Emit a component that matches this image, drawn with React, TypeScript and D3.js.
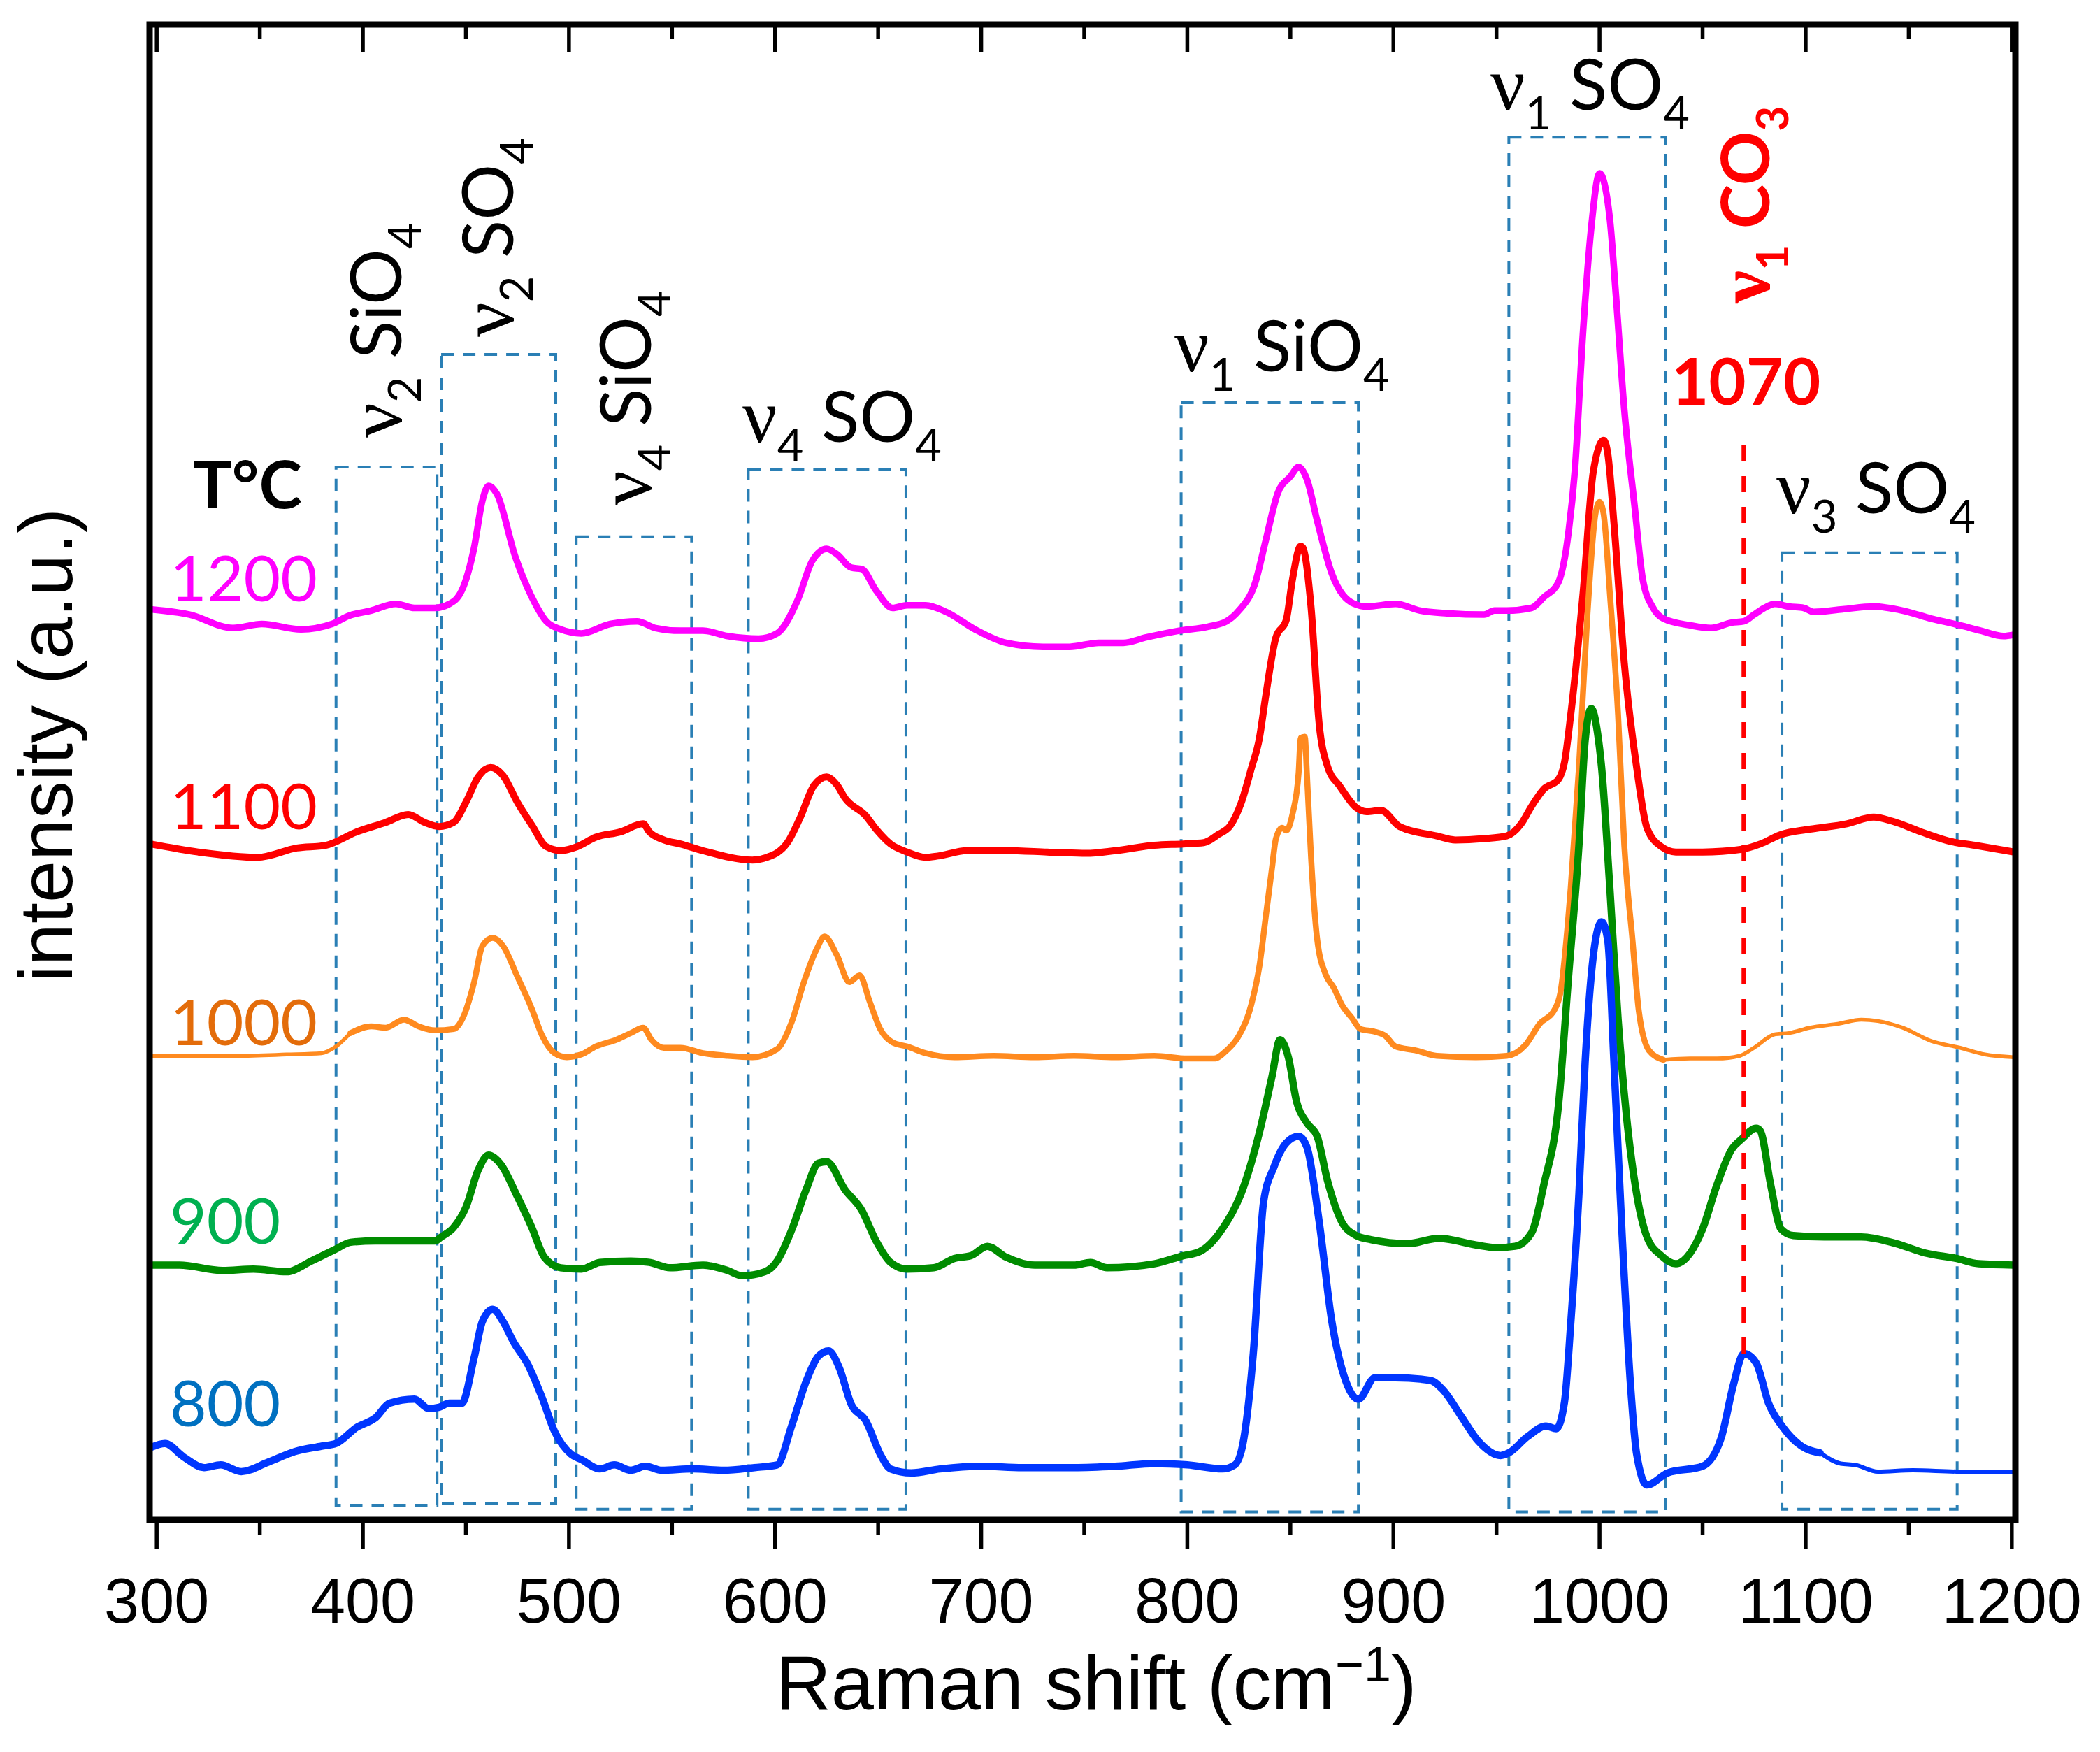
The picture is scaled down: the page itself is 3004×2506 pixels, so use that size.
import * as d3 from "d3";

type Pt = [number, number];

// Raman spectra, [shift (cm-1), intensity (a.u., stacked offset included)]
const spectrum1200: Pt[] = [
  [297, 679], [316, 675], [337, 665], [351, 668], [370, 664], [385, 668], [393, 674], [404, 678],
  [416, 683], [425, 680], [435, 680], [442, 683], [448, 693], [454, 725], [458, 760], [461, 771],
  [465, 765], [474, 718], [482, 688], [489, 670], [496, 664], [506, 661], [520, 668], [533, 670],
  [542, 665], [554, 663], [565, 663], [577, 659], [592, 657], [601, 661], [611, 686], [618, 715],
  [625, 724], [630, 720], [637, 710], [642, 709], [649, 693], [657, 680], [664, 682], [673, 682],
  [683, 677], [697, 664], [712, 654], [730, 651], [743, 651], [757, 654], [769, 654], [780, 658],
  [796, 663], [810, 666], [819, 670], [825, 678], [833, 699], [838, 730], [844, 766], [850, 778],
  [854, 785], [858, 776], [863, 745], [870, 706], [881, 683], [887, 681], [901, 683], [913, 678],
  [926, 676], [944, 675], [949, 678], [955, 678], [967, 680], [973, 688], [980, 699], [985, 737],
  [988, 782], [992, 886], [996, 964], [1000, 1004], [1005, 970], [1008, 912], [1012, 828], [1017, 756],
  [1021, 701], [1026, 680], [1031, 672], [1044, 667], [1054, 665], [1064, 669], [1070, 670], [1075, 675],
  [1080, 680], [1085, 683], [1092, 681], [1099, 680], [1104, 677], [1118, 679], [1133, 681], [1147, 678],
  [1161, 672], [1175, 667], [1185, 663], [1196, 659], [1201, 660],
];

const spectrum1100: Pt[] = [
  [297, 504], [320, 498], [349, 494], [368, 501], [382, 503], [397, 513], [411, 520], [422, 526],
  [430, 520], [437, 517], [444, 520], [450, 535], [456, 554], [462, 561], [468, 555], [475, 535],
  [482, 518], [489, 502], [496, 499], [504, 502], [513, 509], [525, 513], [536, 519], [539, 513],
  [546, 507], [554, 504], [565, 499], [589, 492], [596, 494], [606, 505], [612, 523], [619, 548],
  [625, 554], [630, 548], [634, 538], [644, 525], [649, 515], [656, 504], [664, 498], [673, 494],
  [679, 495], [693, 499], [712, 499], [732, 498], [751, 497], [765, 499], [784, 503], [798, 504],
  [808, 505], [815, 511], [821, 518], [826, 534], [831, 560], [835, 583], [838, 614], [843, 658],
  [848, 671], [851, 701], [855, 726], [856, 725], [860, 681], [864, 593], [868, 562], [874, 547],
  [882, 531], [887, 528], [894, 529], [903, 517], [921, 510], [930, 507], [944, 508], [955, 510],
  [962, 519], [967, 532], [973, 545], [980, 552], [983, 565], [986, 600], [992, 691], [997, 782],
  [1002, 805], [1004, 795], [1007, 743], [1012, 639], [1018, 561], [1023, 516], [1030, 502], [1037, 498],
  [1050, 498], [1069, 500], [1078, 504], [1088, 511], [1102, 515], [1120, 519], [1133, 524], [1142, 521],
  [1156, 513], [1170, 506], [1182, 503], [1201, 498],
];

const spectrum1000: Pt[] = [
  [298, 346], [316, 346], [339, 346], [363, 347], [380, 348], [387, 353], [394, 363], [404, 368],
  [411, 367], [420, 373], [427, 368], [435, 365], [444, 366], [449, 376], [454, 401], [458, 428],
  [463, 434], [468, 428], [475, 405], [482, 381], [487, 361], [493, 348], [499, 345], [506, 347],
  [513, 353], [523, 358], [530, 363], [536, 367], [540, 358], [546, 352], [554, 352], [565, 348],
  [577, 346], [589, 345], [601, 351], [608, 371], [614, 401], [620, 425], [624, 435], [630, 421],
  [636, 401], [641, 406], [646, 386], [651, 366], [657, 356], [664, 353], [673, 348], [687, 345],
  [706, 346], [726, 345], [745, 346], [765, 345], [784, 346], [800, 344], [813, 344], [819, 350],
  [825, 361], [831, 384], [835, 413], [838, 449], [841, 485], [843, 508], [846, 516], [848, 514],
  [851, 526], [854, 557], [855, 583], [857, 584], [858, 557], [860, 495], [863, 433], [867, 407],
  [871, 397], [875, 384], [880, 374], [884, 366], [891, 364], [896, 361], [901, 353], [911, 350],
  [921, 346], [940, 345], [955, 346], [964, 354], [971, 370], [978, 380], [981, 393], [986, 471],
  [990, 561], [994, 672], [998, 750], [1000, 759], [1002, 750], [1005, 691], [1009, 600], [1012, 503],
  [1016, 432], [1019, 380], [1024, 350], [1031, 343], [1044, 344], [1057, 344], [1068, 346], [1075, 352],
  [1085, 362], [1092, 363], [1102, 367], [1116, 370], [1127, 373], [1135, 372], [1147, 367], [1161, 357],
  [1175, 352], [1187, 347], [1201, 345],
];

const spectrum900: Pt[] = [
  [297, 190], [311, 190], [332, 186], [347, 187], [363, 185], [375, 193], [387, 202], [394, 207],
  [406, 208], [420, 208], [435, 208], [438, 211], [444, 218], [450, 233], [456, 261], [461, 272],
  [467, 265], [475, 241], [482, 218], [488, 196], [496, 188], [506, 187], [515, 192], [530, 193],
  [539, 192], [549, 188], [565, 190], [577, 186], [584, 182], [595, 185], [601, 193], [608, 216],
  [615, 246], [621, 266], [625, 267], [634, 246], [642, 231], [649, 208], [656, 192], [664, 187],
  [677, 188], [687, 195], [695, 197], [703, 204], [712, 196], [726, 190], [745, 190], [753, 192],
  [761, 188], [784, 191], [798, 197], [806, 200], [817, 217], [827, 247], [835, 289], [841, 330],
  [845, 358], [849, 345], [853, 312], [858, 296], [863, 286], [868, 253], [875, 222], [882, 212],
  [889, 209], [907, 206], [922, 210], [940, 205], [950, 203], [959, 204], [967, 214], [973, 250],
  [980, 308], [985, 406], [990, 503], [993, 581], [996, 605], [999, 587], [1001, 561], [1005, 471],
  [1009, 373], [1013, 302], [1018, 243], [1023, 211], [1030, 197], [1037, 191], [1044, 199], [1050, 217],
  [1057, 250], [1064, 276], [1069, 284], [1076, 292], [1078, 290], [1083, 250], [1088, 217], [1094, 212],
  [1109, 211], [1127, 211], [1144, 206], [1158, 199], [1173, 195], [1184, 191], [1201, 190],
];

const spectrum800: Pt[] = [
  [297, 54], [304, 57], [313, 47], [323, 39], [331, 41], [341, 36], [354, 43], [367, 51],
  [380, 55], [387, 57], [397, 69], [406, 76], [413, 87], [425, 90], [432, 83], [437, 84],
  [442, 87], [448, 87], [454, 121], [458, 148], [463, 157], [468, 148], [473, 133], [480, 116],
  [487, 91], [493, 66], [501, 49], [506, 45], [515, 38], [522, 41], [530, 37], [537, 40],
  [545, 37], [560, 38], [575, 37], [590, 39], [601, 41], [608, 70], [615, 103], [621, 122],
  [626, 126], [631, 114], [637, 86], [644, 74], [651, 49], [656, 38], [666, 35], [680, 38],
  [700, 40], [720, 39], [745, 39], [765, 40], [784, 42], [800, 41], [817, 38], [823, 41],
  [827, 57], [832, 124], [837, 237], [842, 263], [848, 281], [854, 286], [858, 278], [864, 222],
  [870, 149], [877, 103], [883, 90], [891, 106], [901, 106], [918, 104], [924, 97], [933, 77],
  [941, 59], [952, 48], [956, 50], [965, 62], [974, 70], [979, 68], [983, 88], [986, 146],
  [990, 243], [993, 341], [998, 432], [1001, 446], [1004, 432], [1007, 341], [1011, 211], [1015, 101],
  [1018, 49], [1023, 26], [1033, 35], [1050, 40], [1059, 61], [1065, 101], [1070, 124], [1076, 117],
  [1082, 87], [1089, 69], [1098, 55], [1107, 50], [1117, 42], [1124, 41], [1135, 36], [1152, 37],
  [1174, 36], [1201, 36],
];

// drawing order: back to front
const spectra = [spectrum1200, spectrum1100, spectrum1000, spectrum900, spectrum800];
const temperatures = ["1200", "1100", "1000", "900", "800"];
const lineColors = ["#FF00FF", "#FF0000", "#FF8A1F", "#008C00", "#0036FF"];
const labelColors = ["#FF00FF", "#FF0000", "#E36C0A", "#00B050", "#0070C0"];
const labelBaselines = [860, 1186, 1495, 1779, 2040];

// stroke: heavy inside [thickFrom, thickTo], lighter outside
const thickFrom = [297, 297, 390, 297, 297];
const thickTo = [1201, 1201, 1035, 1201, 1110];
const thickWidth = [9.5, 10, 8.5, 10.5, 10.5];
const thinWidth = [9.5, 10, 5.5, 10.5, 6];

const majorTicks = [300, 400, 500, 600, 700, 800, 900, 1000, 1100, 1200];
const minorTicks = [350, 450, 550, 650, 750, 850, 950, 1050, 1150];

// dashed band boxes (cm-1 range, intensity range)
const bandStart = [387, 438, 503.5, 587, 797, 956, 1088.5];
const bandEnd = [436, 493.6, 559.5, 663.5, 883, 1032, 1173.5];
const bandTop = [785, 869, 733, 783, 833, 1031, 721];
const bandBottom = [11, 12, 8, 8, 6, 6, 8];

const carbonatePeak = 1070;
const carbonateLine: [number, number] = [124, 811];

const AX_FONT = "'Liberation Sans', Arial, sans-serif";
const LBL_FONT = "Lato, 'Open Sans', sans-serif";
const NU_FONT = "'Liberation Serif', 'DejaVu Serif', serif";

const frame = { left: 214, right: 2883, top: 35, bottom: 2174 };

// label with subscripts: parts alternate normal / subscript, first part is the greek nu
function Formula({ parts, size }: { parts: string[]; size: number }) {
  const shift = size * 0.28;
  return (
    <>
      {parts.map((p, i) =>
        i === 0 ? (
          <tspan key={i} fontFamily={NU_FONT} fontSize={size * 1.1}>
            {p}
          </tspan>
        ) : i % 2 === 1 ? (
          <tspan key={i} fontSize={size * 0.65} dy={shift}>
            {p}
          </tspan>
        ) : (
          <tspan key={i} dy={-shift}>
            {p}
          </tspan>
        )
      )}
    </>
  );
}

// split a spectrum into light / heavy stretches that share their end points
function segments(s: Pt[], lo: number, hi: number) {
  let a = s.findIndex((d) => d[0] >= lo);
  if (a < 0) a = s.length - 1;
  let b = s.length - 1;
  while (b > 0 && s[b][0] > hi) b--;
  return {
    left: s.slice(0, a + 1),
    mid: s.slice(a, b + 1),
    right: s.slice(b),
  };
}

export default function App() {
  const width = 3004;
  const height = 2506;

  const x = d3.scaleLinear().domain([300, 1200]).range([224.2, 2877.8]);
  const y = d3.scaleLinear().domain([0, 1115]).range([frame.bottom, frame.top]);

  const line = d3
    .line<Pt>()
    .x((d) => x(d[0]))
    .y((d) => y(d[1]))
    .curve(d3.curveMonotoneX);

  const fs = 100;

  return (
    <svg
      width={width}
      height={height}
      style={{ position: "absolute", left: 0, top: 0, background: "#fff", whiteSpace: "pre" }}
    >
      <rect width={width} height={height} fill="#fff" />

      {/* band boxes */}
      {bandStart.map((b, i) => (
        <rect
          key={i}
          x={x(b)}
          y={y(bandTop[i])}
          width={x(bandEnd[i]) - x(b)}
          height={y(bandBottom[i]) - y(bandTop[i])}
          fill="none"
          stroke="#2A7FB5"
          strokeWidth={4}
          strokeDasharray="18,13"
        />
      ))}

      {/* spectra */}
      {spectra.map((s, i) => {
        const seg = segments(s, thickFrom[i], thickTo[i]);
        const parts = [
          { pts: seg.left, w: thinWidth[i] },
          { pts: seg.right, w: thinWidth[i] },
          { pts: seg.mid, w: thickWidth[i] },
        ];
        return (
          <g key={i}>
            {parts
              .filter((p) => p.pts.length > 1)
              .map((p, j) => (
                <path
                  key={j}
                  d={line(p.pts) ?? ""}
                  fill="none"
                  stroke={lineColors[i]}
                  strokeWidth={p.w}
                  strokeLinejoin="round"
                  strokeLinecap="round"
                />
              ))}
          </g>
        );
      })}

      {/* CO3 marker */}
      <line
        x1={x(carbonatePeak)}
        x2={x(carbonatePeak)}
        y1={y(carbonateLine[0])}
        y2={y(carbonateLine[1])}
        stroke="#FF0000"
        strokeWidth={6.5}
        strokeDasharray="23,21"
      />

      {/* frame */}
      <rect
        x={frame.left}
        y={frame.top}
        width={frame.right - frame.left}
        height={frame.bottom - frame.top}
        fill="none"
        stroke="#000"
        strokeWidth={9}
      />

      {/* ticks */}
      {majorTicks.map((t) => (
        <g key={"M" + t}>
          <line x1={x(t)} x2={x(t)} y1={frame.bottom} y2={frame.bottom + 41} stroke="#000" strokeWidth={5.5} />
          <line x1={x(t)} x2={x(t)} y1={frame.top} y2={frame.top + 40} stroke="#000" strokeWidth={5.5} />
          <text x={x(t)} y={2321} textAnchor="middle" fontFamily={AX_FONT} fontSize={90} fill="#000">
            {t}
          </text>
        </g>
      ))}
      {minorTicks.map((t) => (
        <g key={"m" + t}>
          <line x1={x(t)} x2={x(t)} y1={frame.bottom} y2={frame.bottom + 22} stroke="#000" strokeWidth={5.5} />
          <line x1={x(t)} x2={x(t)} y1={frame.top} y2={frame.top + 21} stroke="#000" strokeWidth={5.5} />
        </g>
      ))}

      {/* axis titles */}
      <text x={1568} y={2445} textAnchor="middle" fontFamily={AX_FONT} fontSize={110} fill="#000">
        Raman shift (cm
        <tspan fontSize={70} dy={-40}>
          −1
        </tspan>
        <tspan dy={40}>)</tspan>
      </text>
      <text
        transform="translate(103,1066) rotate(-90)"
        textAnchor="middle"
        fontFamily={AX_FONT}
        fontSize={108}
        fill="#000"
      >
        intensity (a.u.)
      </text>

      {/* temperature labels */}
      <text x={276} y={727} fontFamily={LBL_FONT} fontWeight="bold" fontSize={93} fill="#000">
        T°C
      </text>
      {temperatures.map((t, i) => (
        <text key={t} x={243} y={labelBaselines[i]} fontFamily={LBL_FONT} fontSize={91} fill={labelColors[i]}>
          {t}
        </text>
      ))}

      {/* band labels */}
      <g fontFamily={LBL_FONT} fontSize={fs} fill="#000">
        <text transform="translate(574,626) rotate(-90)">
          <Formula parts={["ν", "2", " SiO", "4"]} size={fs} />
        </text>
        <text transform="translate(734,482) rotate(-90)">
          <Formula parts={["ν", "2", " SO", "4"]} size={fs} />
        </text>
        <text transform="translate(931,723) rotate(-90)">
          <Formula parts={["ν", "4", " SiO", "4"]} size={fs} />
        </text>
        <text x={1062} y={632}>
          <Formula parts={["ν", "4", " SO", "4"]} size={fs} />
        </text>
        <text x={1680} y={531}>
          <Formula parts={["ν", "1", " SiO", "4"]} size={fs} />
        </text>
        <text x={2132} y={157}>
          <Formula parts={["ν", "1", " SO", "4"]} size={fs} />
        </text>
        <text x={2541} y={734}>
          <Formula parts={["ν", "3", " SO", "4"]} size={fs} />
        </text>
      </g>
      <g fontFamily={LBL_FONT} fontWeight="bold" fill="#FF0000">
        <text transform="translate(2531,434) rotate(-90)" fontSize={96}>
          <Formula parts={["ν", "1", " CO", "3"]} size={96} />
        </text>
        <text x={2391} y={579} fontSize={92}>
          1070
        </text>
      </g>
    </svg>
  );
}
